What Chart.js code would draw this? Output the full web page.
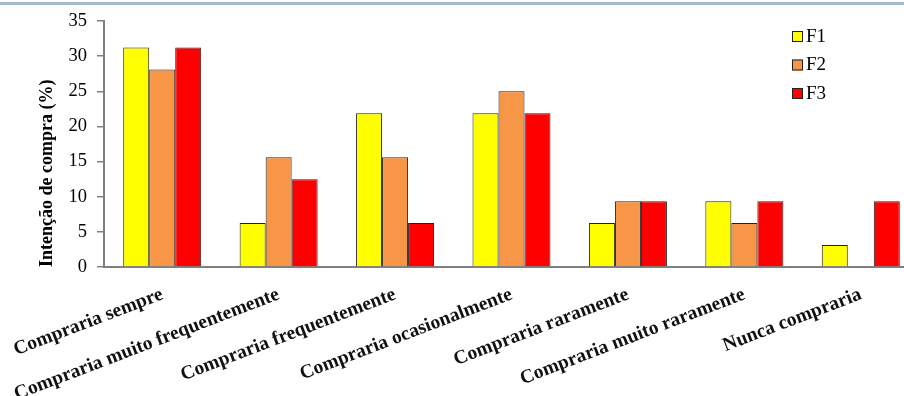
<!DOCTYPE html>
<html lang="pt">
<head>
<meta charset="UTF-8">
<title>Intenção de compra</title>
<script src="https://cdn.jsdelivr.net/npm/chart.js"></script>
<style>
  html, body { margin: 0; padding: 0; background: #fff; }
  #wrap { position: relative; width: 904px; height: 396px; overflow: hidden; }
  #topline { position: absolute; left: 0; top: 2px; width: 904px; height: 3px; background: #a7b8c6; }
  canvas { position: absolute; left: 0; top: 0; }
</style>
</head>
<body>
<div id="wrap">
  <canvas id="chart" width="919" height="396"></canvas>
  <div id="topline"></div>
</div>
<script>
// data
const categories = [
  'Compraria sempre',
  'Compraria muito frequentemente',
  'Compraria frequentemente',
  'Compraria ocasionalmente',
  'Compraria raramente',
  'Compraria muito raramente',
  'Nunca compraria'
];
const seriesNames = ['F1', 'F2', 'F3'];
const f1 = [31.25, 6.25, 21.875, 21.875, 6.25, 9.375, 3.125];
const f2 = [28.125, 15.625, 15.625, 25, 9.375, 6.25, 0];
const f3 = [31.25, 12.5, 6.25, 21.875, 9.375, 9.375, 9.375];
const yTicks = [0, 5, 10, 15, 20, 25, 30, 35];

const colors = ['#ffff00', '#f79646', '#ff0000'];
const serif = "'Liberation Serif', 'Times New Roman', serif";

// small legend drawn inside the plot, top right
const insideLegend = {
  id: 'insideLegend',
  afterDraw(chart) {
    const ctx = chart.ctx;
    ctx.save();
    ctx.font = '19px ' + serif;
    ctx.textBaseline = 'middle';
    chart.data.datasets.forEach((ds, i) => {
      const y = 31 + i * 28.5;
      ctx.fillStyle = ds.backgroundColor;
      ctx.fillRect(792, y, 11, 11);
      ctx.strokeStyle = '#222';
      ctx.lineWidth = 1;
      ctx.strokeRect(792.5, y + 0.5, 10, 10);
      ctx.fillStyle = '#000';
      ctx.fillText(ds.label, 806, y + 6);
    });
    ctx.restore();
  }
};

const data = [f1, f2, f3];

new Chart(document.getElementById('chart'), {
  type: 'bar',
  data: {
    labels: categories,
    datasets: seriesNames.map((name, i) => ({
      label: name,
      data: data[i],
      backgroundColor: colors[i],
      borderColor: '#222',
      borderWidth: 1,
      borderSkipped: 'start',
      categoryPercentage: 0.67,
      barPercentage: 1
    }))
  },
  options: {
    responsive: false,
    animation: false,
    layout: { padding: { top: 17, left: 0, right: 0, bottom: 0 } },
    plugins: {
      legend: { display: false },
      tooltip: { enabled: false }
    },
    scales: {
      x: {
        grid: { display: false, drawTicks: false },
        border: { display: true, color: '#808080', width: 2 },
        ticks: {
          autoSkip: false,
          minRotation: 21,
          maxRotation: 21,
          padding: 16,
          color: '#111',
          font: { family: serif, size: 19.5, weight: 'bold' }
        },
        afterFit(scale) {
          scale.height = 129;
          // labels may run off the left edge, as in the original
          scale.paddingLeft = 0;
          scale.paddingRight = 0;
        }
      },
      y: {
        min: 0,
        max: 35,
        afterBuildTicks(scale) { scale.ticks = yTicks.map(v => ({ value: v })); },
        grid: { drawOnChartArea: false, drawTicks: true, tickLength: 7, color: '#808080', lineWidth: 1.5 },
        border: { display: true, color: '#808080', width: 2 },
        ticks: {
          padding: 10,
          color: '#000',
          font: { family: serif, size: 18.5 }
        },
        title: {
          display: true,
          text: 'Intenção de compra (%)',
          align: 'start',
          color: '#000',
          padding: { top: 37, bottom: 0 },
          font: { family: serif, size: 18, weight: 'bold' }
        },
        afterFit(scale) { scale.width = 104; }
      }
    }
  },
  plugins: [insideLegend]
});
</script>
</body>
</html>
